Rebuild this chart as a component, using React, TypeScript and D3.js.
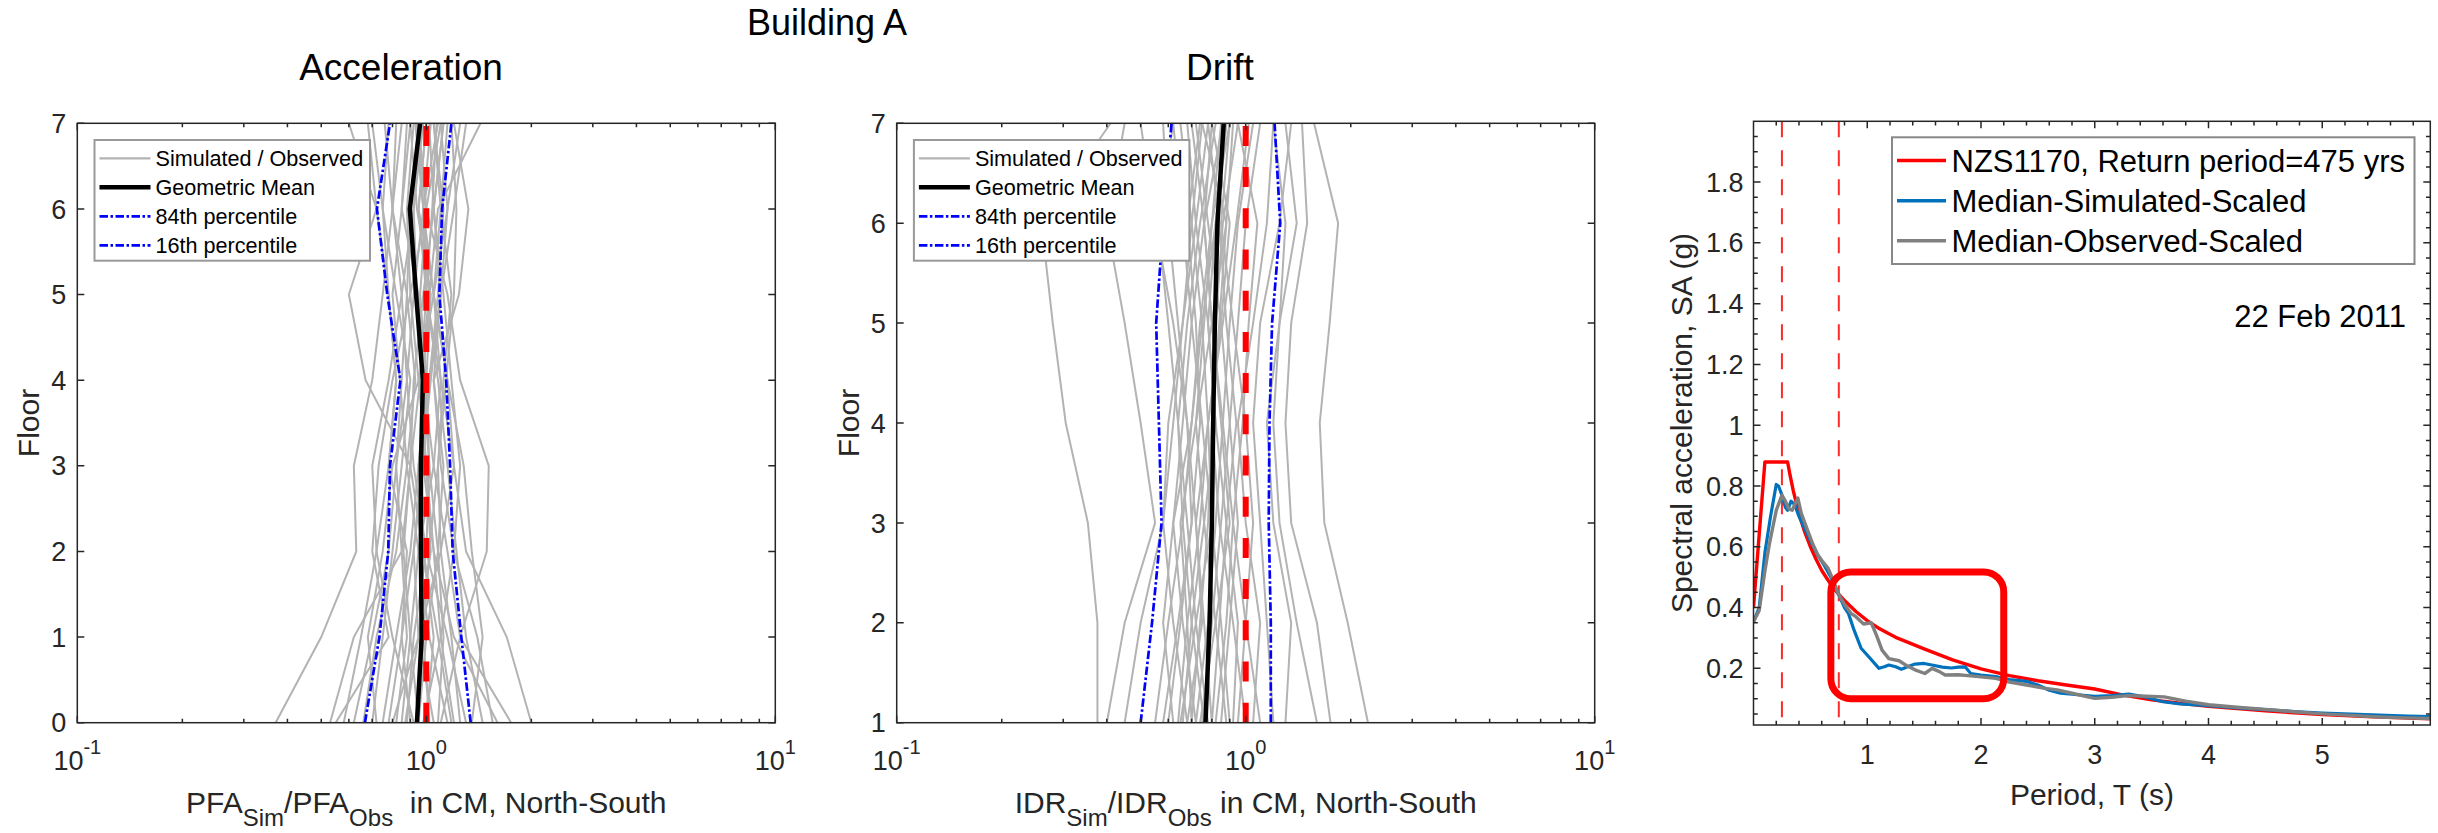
import React from "react";
import * as d3 from "d3";

const FONT = "'Liberation Sans', Arial, Helvetica, sans-serif";
const AXIS = "#262626";

// ---------- Floor-response ratios (simulated / observed) ----------
const accFloors = [0, 1, 2, 3, 4, 5, 6, 7];
const driftFloors = [1, 2, 3, 4, 5, 6, 7];

// PFA ratio per record, floors 0..7
const accRecords: number[][] = [
  [0.37, 0.5, 0.63, 0.62, 0.7, 0.75, 0.8, 0.85],
  [2.0, 1.7, 1.3, 1.2, 1.1, 1.05, 1.15, 1.1],
  [1.75, 1.25, 1.49, 1.51, 1.25, 1.15, 1.0, 0.95],
  [0.53, 0.62, 0.85, 0.9, 0.67, 0.6, 0.72, 0.6],
  [0.55, 0.78, 0.7, 0.73, 0.8, 0.9, 1.0, 1.1],
  [1.55, 1.4, 1.2, 1.1, 1.05, 1.24, 1.32, 1.2],
  [0.75, 0.82, 0.9, 0.95, 1.0, 0.95, 0.85, 0.9],
  [0.85, 0.9, 0.95, 1.05, 1.1, 1.0, 0.95, 1.0],
  [1.2, 1.1, 1.05, 1.0, 0.95, 0.9, 0.88, 0.92],
  [0.95, 1.0, 1.08, 1.12, 1.05, 1.1, 1.15, 1.25],
  [1.1, 1.25, 1.15, 1.05, 0.98, 1.02, 1.08, 1.43],
  [0.7, 0.75, 0.8, 0.85, 0.9, 0.82, 0.75, 0.78],
  [1.3, 1.15, 1.0, 0.92, 0.88, 0.85, 0.8, 0.82],
  [0.9, 0.85, 0.88, 0.78, 0.82, 0.78, 0.75, 0.7],
  [1.05, 0.95, 0.92, 0.98, 1.02, 1.08, 1.12, 1.05],
  [0.8, 0.95, 1.1, 1.2, 1.15, 1.05, 0.95, 1.0],
  [1.45, 1.3, 1.22, 1.15, 1.08, 1.0, 0.98, 1.08],
  [0.62, 0.7, 0.78, 0.82, 0.85, 0.88, 0.9, 0.95],
  [1.0, 1.05, 0.98, 0.9, 0.92, 0.98, 1.05, 1.12],
  [0.88, 0.92, 1.0, 1.02, 0.98, 0.94, 0.92, 0.97],
  [1.15, 1.02, 0.95, 0.88, 0.84, 0.8, 0.85, 0.88],
  [0.72, 0.68, 0.75, 0.8, 0.95, 1.05, 1.1, 1.15],
  [1.6, 1.2, 1.05, 0.98, 1.02, 1.1, 1.2, 1.3],
  [0.98, 1.1, 1.2, 1.25, 1.18, 1.12, 1.05, 1.02],
  [0.82, 0.88, 0.85, 0.82, 0.88, 0.92, 0.98, 0.93],
  [1.25, 1.18, 1.1, 1.08, 1.12, 1.18, 1.1, 1.05],
  [0.92, 0.8, 0.72, 0.7, 0.78, 0.85, 0.92, 0.98],
  [1.08, 1.12, 1.08, 1.02, 1.0, 0.96, 1.0, 0.94],
  [0.78, 0.85, 0.92, 0.97, 1.03, 1.1, 1.05, 1.12],
  [1.35, 1.45, 1.35, 1.28, 1.15, 1.05, 0.98, 0.95],
  [0.66, 0.72, 0.82, 0.88, 0.93, 0.88, 0.8, 0.76],
  [1.02, 0.98, 1.02, 1.08, 1.14, 1.2, 1.22, 1.18],
  [0.87, 0.95, 1.03, 1.0, 0.96, 1.0, 1.04, 1.07],
  [1.18, 1.08, 0.98, 0.95, 1.0, 1.03, 0.94, 0.9],
  [0.58, 0.65, 0.72, 0.78, 0.82, 0.78, 0.72, 0.68],
  [0.95, 0.9, 0.86, 0.9, 0.96, 1.02, 0.98, 1.03],
];
const accMean = [0.94, 0.97, 0.965, 0.965, 0.978, 0.935, 0.897, 0.96];
const accP84 = [1.34, 1.26, 1.19, 1.17, 1.14, 1.09, 1.11, 1.18];
const accP16 = [0.667, 0.734, 0.778, 0.787, 0.843, 0.773, 0.722, 0.787];

// IDR ratio per record, stories 1..7
const driftRecords: number[][] = [
  [0.376, 0.376, 0.353, 0.305, 0.28, 0.26, 0.41],
  [2.24, 1.96, 1.68, 1.63, 1.74, 1.84, 1.57],
  [0.4, 0.45, 0.55, 0.5, 0.45, 0.4, 0.45],
  [1.75, 1.6, 1.35, 1.3, 1.35, 1.5, 1.45],
  [0.6, 0.65, 0.7, 0.68, 0.62, 0.55, 0.5],
  [0.65, 0.72, 0.8, 0.78, 0.75, 0.7, 0.65],
  [0.7, 0.68, 0.65, 0.72, 0.8, 0.88, 0.92],
  [0.75, 0.8, 0.85, 0.9, 0.95, 1.0, 1.1],
  [0.8, 0.76, 0.72, 0.78, 0.85, 0.9, 0.8],
  [0.85, 0.9, 0.95, 0.9, 0.85, 0.78, 0.72],
  [0.68, 0.62, 0.58, 0.6, 0.66, 0.72, 0.78],
  [0.95, 1.0, 1.05, 1.0, 0.92, 0.85, 0.9],
  [1.3, 1.35, 1.2, 1.15, 1.25, 1.4, 1.3],
  [0.72, 0.78, 0.82, 0.86, 0.9, 0.95, 1.05],
  [0.62, 0.58, 0.62, 0.7, 0.75, 0.82, 0.88],
  [0.9, 0.85, 0.8, 0.75, 0.7, 0.66, 0.62],
  [1.05, 1.1, 1.0, 0.95, 1.05, 1.15, 1.2],
  [0.78, 0.72, 0.68, 0.64, 0.68, 0.74, 0.82],
  [0.66, 0.7, 0.76, 0.82, 0.78, 0.72, 0.68],
  [1.1, 1.0, 0.92, 0.86, 0.8, 0.76, 0.8],
  [0.82, 0.88, 0.92, 0.98, 1.02, 1.08, 0.95],
  [0.58, 0.64, 0.7, 0.74, 0.72, 0.68, 0.74],
  [0.74, 0.82, 0.9, 0.85, 0.8, 0.76, 0.86],
  [0.7, 0.74, 0.78, 0.8, 0.84, 0.88, 0.75],
  [1.2, 1.15, 1.1, 1.05, 1.1, 1.25, 1.35],
  [0.88, 0.82, 0.76, 0.72, 0.76, 0.8, 0.85],
  [0.64, 0.68, 0.74, 0.78, 0.86, 0.94, 1.02],
  [0.76, 0.7, 0.66, 0.7, 0.74, 0.8, 0.9],
  [0.45, 0.5, 0.58, 0.62, 0.66, 0.7, 0.75],
  [0.92, 0.95, 0.88, 0.82, 0.78, 0.82, 0.88],
  [0.68, 0.75, 0.72, 0.68, 0.64, 0.6, 0.58],
  [0.8, 0.84, 0.88, 0.94, 0.88, 0.84, 0.78],
  [1.0, 0.92, 0.84, 0.8, 0.82, 0.86, 0.95],
  [0.55, 0.6, 0.66, 0.64, 0.6, 0.56, 0.62],
  [0.72, 0.66, 0.62, 0.66, 0.7, 0.76, 0.7],
  [1.6, 1.4, 1.25, 1.2, 1.25, 1.3, 1.2],
];
const driftMean = [0.767, 0.788, 0.8, 0.807, 0.816, 0.83, 0.865];
const driftP84 = [1.18, 1.18, 1.164, 1.17, 1.19, 1.256, 1.21];
const driftP16 = [0.5, 0.539, 0.574, 0.564, 0.554, 0.58, 0.613];

// ---------- Response spectra: [period (s), SA (g)] ----------
const nzsSpectrum: [number, number][] = [
  [0, 0.4], [0.1, 0.879], [0.3, 0.879], [0.32, 0.838], [0.35, 0.784], [0.4, 0.708],
  [0.45, 0.649], [0.5, 0.6], [0.55, 0.559], [0.6, 0.522], [0.65, 0.493], [0.7, 0.465],
  [0.8, 0.423], [0.9, 0.387], [1.0, 0.357], [1.1, 0.332], [1.25, 0.302], [1.5, 0.264],
  [1.75, 0.228], [2.0, 0.198], [2.25, 0.176], [2.5, 0.159], [2.75, 0.145], [3.0, 0.132],
  [3.25, 0.112], [3.5, 0.096], [3.75, 0.085], [4.0, 0.075], [4.5, 0.06], [5.0, 0.048],
  [5.5, 0.04], [5.95, 0.034],
];
const simMedian: [number, number][] = [
  [0, 0.353], [0.05, 0.4], [0.1, 0.58], [0.15, 0.7], [0.2, 0.805], [0.22, 0.8], [0.25, 0.77],
  [0.28, 0.73], [0.3, 0.72], [0.33, 0.75], [0.36, 0.74], [0.4, 0.7], [0.45, 0.66], [0.5, 0.62],
  [0.56, 0.575], [0.62, 0.54], [0.68, 0.5], [0.745, 0.446], [0.8, 0.4], [0.835, 0.38],
  [0.88, 0.33], [0.946, 0.266], [1.013, 0.238], [1.103, 0.2], [1.15, 0.205], [1.19, 0.211],
  [1.25, 0.205], [1.3, 0.197], [1.36, 0.206], [1.42, 0.214], [1.5, 0.216], [1.58, 0.21],
  [1.66, 0.204], [1.74, 0.201], [1.8, 0.204], [1.86, 0.205], [1.91, 0.183], [2.0, 0.178],
  [2.13, 0.173], [2.25, 0.163], [2.4, 0.157], [2.5, 0.145], [2.6, 0.128], [2.7, 0.118],
  [2.85, 0.113], [3.0, 0.108], [3.15, 0.11], [3.3, 0.115], [3.45, 0.105], [3.6, 0.09],
  [3.75, 0.083], [3.9, 0.08], [4.0, 0.077], [4.25, 0.07], [4.5, 0.064], [4.75, 0.058],
  [5.0, 0.053], [5.25, 0.049], [5.5, 0.046], [5.75, 0.043], [5.95, 0.041],
];
const obsMedian: [number, number][] = [
  [0, 0.353], [0.05, 0.39], [0.1, 0.52], [0.14, 0.61], [0.2, 0.72], [0.25, 0.77], [0.28, 0.75],
  [0.31, 0.725], [0.34, 0.72], [0.37, 0.745], [0.39, 0.76], [0.42, 0.71], [0.475, 0.655],
  [0.52, 0.61], [0.566, 0.573], [0.61, 0.55], [0.655, 0.53], [0.7, 0.49], [0.745, 0.446],
  [0.8, 0.41], [0.857, 0.381], [0.9, 0.37], [0.968, 0.346], [1.035, 0.35], [1.08, 0.31],
  [1.13, 0.26], [1.19, 0.232], [1.28, 0.225], [1.35, 0.208], [1.42, 0.195], [1.506, 0.183],
  [1.57, 0.2], [1.63, 0.19], [1.685, 0.178], [1.8, 0.179], [1.909, 0.175], [2.0, 0.172],
  [2.13, 0.167], [2.25, 0.155], [2.4, 0.145], [2.55, 0.135], [2.67, 0.129], [2.8, 0.118],
  [3.0, 0.101], [3.15, 0.105], [3.29, 0.11], [3.45, 0.108], [3.61, 0.106], [3.8, 0.092],
  [4.0, 0.08], [4.25, 0.072], [4.5, 0.065], [4.75, 0.057], [5.0, 0.05], [5.25, 0.045],
  [5.5, 0.04], [5.75, 0.037], [5.95, 0.035],
];
const designPeriods = [0.25, 0.75];
const highlightPeriod = [0.68, 2.2];
const highlightSA = [0.1, 0.517];

const floorTicksAcc = [0, 1, 2, 3, 4, 5, 6, 7];
const floorTicksDrift = [1, 2, 3, 4, 5, 6, 7];
const saTicks = [0.2, 0.4, 0.6, 0.8, 1, 1.2, 1.4, 1.6, 1.8];
const periodTicks = [1, 2, 3, 4, 5];
const logMajor = [0.1, 1, 10];
const logMinor = [0.2, 0.3, 0.4, 0.5, 0.6, 0.7, 0.8, 0.9, 2, 3, 4, 5, 6, 7, 8, 9];

const legendA = ["Simulated / Observed", "Geometric Mean", "84th percentile", "16th percentile"];
const legendSpec = ["NZS1170, Return period=475 yrs", "Median-Simulated-Scaled", "Median-Observed-Scaled"];

type Box = { x0: number; x1: number; y0: number; y1: number };

function Frame({ b, xMaj, xMin, yMaj, yMin, maj, min }: {
  b: Box; xMaj: number[]; xMin: number[]; yMaj: number[]; yMin: number[]; maj: number; min: number;
}) {
  let d = "";
  xMaj.forEach((x) => { d += `M${x},${b.y1}V${b.y1 - maj}M${x},${b.y0}V${b.y0 + maj}`; });
  xMin.forEach((x) => { d += `M${x},${b.y1}V${b.y1 - min}M${x},${b.y0}V${b.y0 + min}`; });
  yMaj.forEach((y) => { d += `M${b.x0},${y}H${b.x0 + maj}M${b.x1},${y}H${b.x1 - maj}`; });
  yMin.forEach((y) => { d += `M${b.x0},${y}H${b.x0 + min}M${b.x1},${y}H${b.x1 - min}`; });
  return (
    <g>
      <path d={d} stroke={AXIS} strokeWidth={1.5} fill="none" />
      <rect x={b.x0} y={b.y0} width={b.x1 - b.x0} height={b.y1 - b.y0} fill="none" stroke={AXIS} strokeWidth={1.5} />
    </g>
  );
}

function FloorPanel({ b, floors, records, mean, p84, p16, yTicks, title, titleX, xlab }: {
  b: Box; floors: number[]; records: number[][]; mean: number[]; p84: number[]; p16: number[];
  yTicks: number[]; title: string; titleX: number; xlab: [string, string, string, string, string];
}) {
  const xs = d3.scaleLog().domain([0.1, 10]).range([b.x0, b.x1]);
  const ys = d3.scaleLinear().domain([floors[0], 7]).range([b.y1, b.y0]);
  const line = d3.line<number>().x((v) => xs(v)).y((_, i) => ys(floors[i]));
  const dashDot = "8.5 2.5 2.5 2.5";
  const lx0 = b.x0 + 17.2;
  const legY = [158.3, 187.3, 216.3, 245.3];
  const cx = (b.x0 + b.x1) / 2;
  return (
    <g>
      {records.map((r, i) => (
        <path key={i} d={line(r) || ""} fill="none" stroke="#b3b3b3" strokeWidth={2} />
      ))}
      <path d={line(p84) || ""} fill="none" stroke="#0000ff" strokeWidth={2.7} strokeDasharray={dashDot} />
      <path d={line(p16) || ""} fill="none" stroke="#0000ff" strokeWidth={2.7} strokeDasharray={dashDot} />
      <path d={line(mean) || ""} fill="none" stroke="#000" strokeWidth={4.5} />
      <line x1={xs(1)} x2={xs(1)} y1={ys(floors[0])} y2={ys(7)} stroke="#ff0000" strokeWidth={6}
        strokeDasharray="20 21.2" />
      <Frame b={b} xMaj={logMajor.map(xs)} xMin={logMinor.map(xs)} yMaj={yTicks.map(ys)} yMin={[]} maj={7} min={4} />
      {/* legend */}
      <rect x={b.x0 + 17.2} y={140} width={275.5} height={120.7} fill="#fff" stroke="#999" strokeWidth={2} />
      {legendA.map((t, i) => (
        <g key={t}>
          <line x1={lx0 + 5} x2={lx0 + 56} y1={legY[i]} y2={legY[i]}
            stroke={i === 0 ? "#b3b3b3" : i === 1 ? "#000" : "#0000ff"}
            strokeWidth={i === 1 ? 4.5 : i === 0 ? 2.2 : 2.7}
            strokeDasharray={i >= 2 ? dashDot : undefined} />
          <text x={lx0 + 61} y={legY[i] + 7.7} fontSize={21.6} fill="#000">{t}</text>
        </g>
      ))}
      {/* tick labels */}
      {yTicks.map((t) => (
        <text key={t} x={b.x0 - 11} y={ys(t) + 9.6} fontSize={27} textAnchor="end" fill={AXIS}>{t}</text>
      ))}
      {logMajor.map((t) => (
        <text key={t} x={xs(t)} y={770} fontSize={27} textAnchor="middle" fill={AXIS}>
          10<tspan fontSize={20} dy={-15.7}>{Math.round(Math.log10(t))}</tspan>
        </text>
      ))}
      <text x={b.x0 - 38} y={423} fontSize={30} textAnchor="middle" fill={AXIS}
        transform={`rotate(-90 ${b.x0 - 38} 423)`}>Floor</text>
      <text x={cx} y={813} fontSize={30} textAnchor="middle" fill={AXIS}>
        {xlab[0]}<tspan fontSize={24} dy={13}>{xlab[1]}</tspan>
        <tspan dy={-13}>{xlab[2]}</tspan><tspan fontSize={24} dy={13}>{xlab[3]}</tspan>
        <tspan dy={-13} xmlSpace="preserve">{xlab[4]}</tspan>
      </text>
      <text x={titleX} y={80} fontSize={37} textAnchor="middle" fill="#000">{title}</text>
    </g>
  );
}

function SpectrumPanel({ b }: { b: Box }) {
  const xs = d3.scaleLinear().domain([0, 5.95]).range([b.x0, b.x1]);
  const ys = d3.scaleLinear().domain([0.0135, 2]).range([b.y1, b.y0]);
  const line = d3.line<[number, number]>().x((d) => xs(d[0])).y((d) => ys(d[1]));
  const xMinor = d3.range(1, 30).map((k) => k * 0.2).filter((v) => Math.abs(v - Math.round(v)) > 1e-6);
  const yMinor = d3.range(1, 40).map((k) => k * 0.05).filter((v) => Math.abs(v / 0.2 - Math.round(v / 0.2)) > 1e-6);
  const rx0 = xs(highlightPeriod[0]);
  const rx1 = xs(highlightPeriod[1]);
  const ry0 = ys(highlightSA[1]);
  const ry1 = ys(highlightSA[0]);
  const legY = [160.5, 200.7, 240.7];
  const legColors = ["#ff0000", "#0072bd", "#808080"];
  return (
    <g>
      <defs>
        <clipPath id="specClip">
          <rect x={b.x0} y={b.y0} width={b.x1 - b.x0} height={b.y1 - b.y0} />
        </clipPath>
      </defs>
      {designPeriods.map((p) => (
        <line key={p} x1={xs(p)} x2={xs(p)} y1={b.y0} y2={b.y1} stroke="#ff2a2a" strokeWidth={2}
          strokeDasharray="16 13" />
      ))}
      <g clipPath="url(#specClip)">
        <path d={line(nzsSpectrum) || ""} fill="none" stroke="#ff0000" strokeWidth={3.4} strokeLinejoin="round" />
        <path d={line(simMedian) || ""} fill="none" stroke="#0072bd" strokeWidth={3.2} strokeLinejoin="round" />
        <path d={line(obsMedian) || ""} fill="none" stroke="#808080" strokeWidth={3.4} strokeLinejoin="round" />
      </g>
      <rect x={rx0} y={ry0} width={rx1 - rx0} height={ry1 - ry0} rx={20} ry={20} fill="none"
        stroke="#ff0000" strokeWidth={7} />
      <Frame b={b} xMaj={periodTicks.map(xs)} xMin={xMinor.map(xs)} yMaj={saTicks.map(ys)} yMin={yMinor.map(ys)}
        maj={7} min={4.3} />
      {saTicks.map((t) => (
        <text key={t} x={b.x0 - 10} y={ys(t) + 9.6} fontSize={27} textAnchor="end" fill={AXIS}>{t}</text>
      ))}
      {periodTicks.map((t) => (
        <text key={t} x={xs(t)} y={764} fontSize={27} textAnchor="middle" fill={AXIS}>{t}</text>
      ))}
      <text x={1692} y={423} fontSize={30} textAnchor="middle" fill={AXIS}
        transform="rotate(-90 1692 423)">Spectral acceleration, SA (g)</text>
      <text x={(b.x0 + b.x1) / 2} y={805} fontSize={30} textAnchor="middle" fill={AXIS}>Period, T (s)</text>
      <text x={2406} y={327} fontSize={31} textAnchor="end" fill="#000">22 Feb 2011</text>
      <rect x={1892} y={137.3} width={522.5} height={126.7} fill="#fff" stroke="#888" strokeWidth={2} />
      {legendSpec.map((t, i) => (
        <g key={t}>
          <line x1={1897} x2={1946} y1={legY[i]} y2={legY[i]} stroke={legColors[i]} strokeWidth={3.5} />
          <text x={1951.5} y={legY[i] + 11} fontSize={31} fill="#000">{t}</text>
        </g>
      ))}
    </g>
  );
}

export default function App() {
  const W = 2438;
  const H = 833;
  return (
    <svg width={W} height={H} viewBox={`0 0 ${W} ${H}`} fontFamily={FONT}
      style={{ position: "absolute", left: 0, top: 0, background: "#fff" }}>
      <rect width={W} height={H} fill="#fff" />
      <text x={827} y={35} fontSize={36} textAnchor="middle" fill="#000">Building A</text>
      <FloorPanel b={{ x0: 77.3, x1: 775.3, y0: 123.3, y1: 722.7 }} floors={accFloors} records={accRecords}
        mean={accMean} p84={accP84} p16={accP16} yTicks={floorTicksAcc} title="Acceleration" titleX={401}
        xlab={["PFA", "Sim", "/PFA", "Obs", "  in CM, North-South"]} />
      <FloorPanel b={{ x0: 896.7, x1: 1594.7, y0: 123.3, y1: 722.7 }} floors={driftFloors} records={driftRecords}
        mean={driftMean} p84={driftP84} p16={driftP16} yTicks={floorTicksDrift} title="Drift" titleX={1220}
        xlab={["IDR", "Sim", "/IDR", "Obs", " in CM, North-South"]} />
      <SpectrumPanel b={{ x0: 1753.5, x1: 2430.3, y0: 121.3, y1: 725 }} />
    </svg>
  );
}
